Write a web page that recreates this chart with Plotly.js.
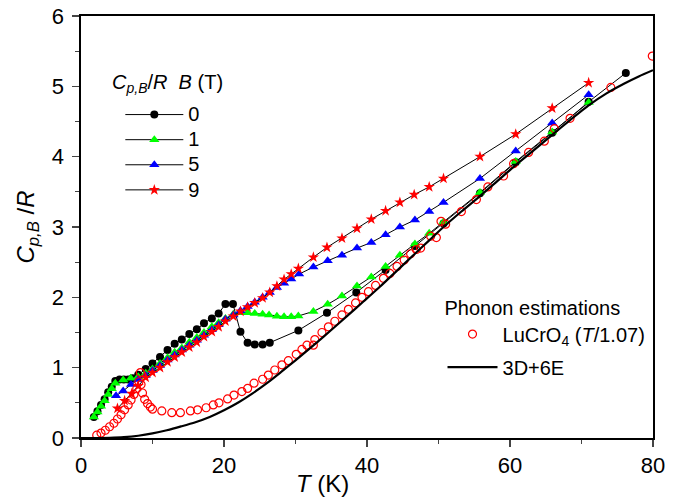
<!DOCTYPE html>
<html>
<head>
<meta charset="utf-8">
<script src="https://cdn.plot.ly/plotly-3.0.1.min.js"></script>
<style>html,body{margin:0;padding:0;background:#fff;}#chart{width:685px;height:502px;}</style>
</head>
<body>
<div id="chart"></div>
<script>
// B = 0 T
const T0 = [1.8,2.3,2.8,3.3,3.8,4.3,4.8,5.4,6.0,6.6,7.2,8.0,9.05,10.0,11.05,12.1,13.1,14.1,15.15,16.2,17.2,18.3,19.25,20.2,21.25,22.3,23.3,24.3,25.4,26.4,30.4,34.4,38.5,42.6,46.7,50.7,55.8,60.8,65.9,71.0,76.2];
const C0 = [0.30,0.38,0.47,0.55,0.65,0.73,0.81,0.83,0.83,0.83,0.85,0.90,0.98,1.06,1.15,1.25,1.34,1.40,1.48,1.545,1.63,1.70,1.77,1.905,1.905,1.51,1.355,1.33,1.33,1.355,1.53,1.78,2.07,2.39,2.73,3.05,3.48,3.92,4.34,4.78,5.19];
// B = 1 T
const T1 = [1.8,2.3,2.8,3.3,3.8,4.3,4.8,5.9,6.95,8.0,9.05,10.0,11.05,12.1,13.1,14.1,15.15,16.2,17.2,18.3,19.25,20.2,21.3,22.3,23.3,24.3,25.4,26.3,27.4,28.4,29.4,30.4,32.5,34.5,36.5,38.6,40.6,42.6,44.6,46.7,48.7,50.7,55.8,60.8,65.9,71.0];
const C1 = [0.30,0.37,0.45,0.53,0.62,0.70,0.78,0.825,0.85,0.87,0.92,0.98,1.06,1.14,1.22,1.28,1.36,1.43,1.50,1.58,1.64,1.70,1.76,1.78,1.78,1.77,1.76,1.75,1.73,1.725,1.725,1.735,1.80,1.90,2.02,2.16,2.29,2.44,2.60,2.76,2.91,3.07,3.49,3.93,4.35,4.77];
// B = 5 T
const T5 = [4.9,5.9,7.0,8.0,9.05,10.0,11.05,12.1,13.1,14.1,15.15,16.2,17.2,18.3,19.25,20.2,21.3,22.3,23.3,24.3,25.4,26.4,27.4,28.4,29.4,30.5,32.5,34.5,36.5,38.6,40.6,42.6,44.6,46.7,48.7,50.7,55.8,60.8,65.9,71.0];
const C5 = [0.60,0.67,0.76,0.83,0.89,0.96,1.03,1.11,1.18,1.25,1.32,1.39,1.46,1.54,1.61,1.69,1.75,1.81,1.87,1.93,2.00,2.07,2.14,2.20,2.26,2.33,2.43,2.52,2.60,2.70,2.78,2.89,3.00,3.10,3.22,3.35,3.69,4.08,4.48,4.88];
// B = 9 T
const T9 = [5.1,6.1,7.1,8.0,9.05,10.0,11.05,12.1,13.1,14.1,15.15,16.2,17.2,18.3,19.25,20.2,21.3,22.3,23.3,24.3,25.4,26.4,27.4,28.4,29.4,30.4,32.5,34.4,36.5,38.6,40.6,42.6,44.6,46.6,48.7,50.7,55.8,60.8,65.9,71.0];
const C9 = [0.42,0.53,0.63,0.74,0.86,0.93,1.00,1.08,1.15,1.22,1.29,1.36,1.44,1.51,1.58,1.66,1.73,1.80,1.86,1.92,1.99,2.07,2.16,2.255,2.33,2.41,2.57,2.71,2.84,2.98,3.11,3.23,3.35,3.46,3.57,3.69,4.00,4.32,4.69,5.05];
// LuCrO4 (T/1.07) phonon estimate
const TL = [2.2,2.8,3.4,4.0,4.6,5.1,5.6,6.1,6.6,7.0,7.4,7.8,8.1,8.3,8.4,8.6,8.9,9.3,9.7,10.0,11.3,12.7,13.9,15.3,16.3,17.5,18.5,19.3,20.5,21.4,22.5,23.3,24.2,25.4,26.2,27.1,28.1,29.0,30.1,30.9,31.6,32.5,32.7,33.7,34.6,35.5,36.5,37.4,38.4,39.3,40.2,41.2,42.3,43.2,44.2,45.2,46.1,46.9,47.5,48.9,49.7,50.35,51.0,53.2,55.3,56.9,59.1,60.5,62.6,64.8,66.2,68.4,74.1,79.9];
const CL = [0.04,0.07,0.11,0.16,0.21,0.27,0.33,0.40,0.47,0.54,0.62,0.70,0.80,0.93,0.76,0.64,0.55,0.49,0.44,0.41,0.385,0.36,0.36,0.385,0.40,0.43,0.47,0.50,0.555,0.61,0.66,0.705,0.78,0.835,0.895,0.967,1.04,1.10,1.19,1.26,1.32,1.32,1.40,1.50,1.58,1.66,1.75,1.83,1.92,2.00,2.08,2.17,2.27,2.34,2.44,2.53,2.62,2.68,2.70,2.87,2.85,3.08,3.04,3.22,3.39,3.57,3.725,3.90,4.06,4.22,4.40,4.545,4.985,5.43];
// 3D+6E model
const TM = [0,2,4,6,8,10,12,14,16,18,20,22,24,26,28,30,33,35,37,39.5,41.8,44.2,46.7,48.7,50.7,53.2,55.8,58.3,60.8,63.3,65.9,68.4,71,73.5,76,78,80];
const CM = [0,0,0.003,0.012,0.032,0.065,0.11,0.165,0.225,0.30,0.395,0.505,0.635,0.78,0.94,1.105,1.36,1.535,1.715,1.94,2.15,2.38,2.62,2.81,3.00,3.22,3.44,3.66,3.88,4.09,4.31,4.52,4.73,4.90,5.04,5.14,5.23];

const FAM = 'Liberation Sans, Arial, sans-serif';
const big = s => '<span style="font-size:20px">' + s + '</span>';

const traces = [
  {x: T0, y: C0, name: big('0'), legend: 'legend', mode: 'lines+markers',
   line: {color: '#000', width: 1}, marker: {symbol: 'circle', size: 8, color: '#000'}},
  {x: T1, y: C1, name: big('1'), legend: 'legend', mode: 'lines+markers',
   line: {color: '#000', width: 1}, marker: {symbol: 'triangle-up', size: 9, color: '#00ff00'}},
  {x: T5, y: C5, name: big('5'), legend: 'legend', mode: 'lines+markers',
   line: {color: '#000', width: 1}, marker: {symbol: 'triangle-up', size: 9, color: '#0000ff'}},
  {x: T9, y: C9, name: big('9'), legend: 'legend', mode: 'lines+markers',
   line: {color: '#000', width: 1}, marker: {symbol: 'star', size: 8.5, color: '#ff0000'}},
  {x: TL, y: CL, name: 'LuCrO<sub>4</sub> (<i>T</i>/1.07)', legend: 'legend2', legendgroup: 'a', mode: 'markers',
   marker: {symbol: 'circle-open', size: 8, color: '#ff0000', line: {width: 1.2, color: '#ff0000'}}},
  {x: TM, y: CM, name: '3D+6E', legend: 'legend2', legendgroup: 'b', mode: 'lines',
   line: {color: '#000', width: 2.2, shape: 'spline', smoothing: 0.8}}
];

const axisFont = {family: FAM, size: 22, color: '#000'};

const layout = {
  width: 685, height: 502,
  margin: {l: 81, r: 32, t: 16, b: 64},
  paper_bgcolor: '#fff', plot_bgcolor: '#fff',
  showlegend: true,
  xaxis: {
    range: [0, 80], tickvals: [0, 20, 40, 60, 80], ticks: 'outside', ticklen: 7, tickwidth: 1.2,
    minor: {tickvals: [10, 30, 50, 70], ticks: 'outside', ticklen: 4, tickwidth: 1.2},
    showline: true, linewidth: 1.6, linecolor: '#000', mirror: true,
    showgrid: false, zeroline: false, tickfont: axisFont
  },
  yaxis: {
    range: [0, 6], tickvals: [0, 1, 2, 3, 4, 5, 6], ticks: 'outside', ticklen: 7, tickwidth: 1.2,
    minor: {tickvals: [0.5, 1.5, 2.5, 3.5, 4.5, 5.5], ticks: 'outside', ticklen: 4, tickwidth: 1.2},
    showline: true, linewidth: 1.6, linecolor: '#000', mirror: true, ticklabelstandoff: 4,
    showgrid: false, zeroline: false, tickfont: axisFont,
    title: {text: '<i>C</i><sub><i>p,B</i></sub> /<i>R</i>', font: {family: FAM, size: 24, color: '#000'}, standoff: 10}
  },
  legend: {
    x: 0.06, y: 0.808, xanchor: 'left', yanchor: 'top', bgcolor: 'rgba(0,0,0,0)',
    font: {family: FAM, size: 17, color: '#000'}, traceorder: 'normal', itemwidth: 58, indentation: 5
  },
  legend2: {
    x: 0.632, y: 0.354, xanchor: 'left', yanchor: 'top', bgcolor: 'rgba(0,0,0,0)',
    font: {family: FAM, size: 20, color: '#000'}, traceorder: 'grouped', tracegroupgap: 4, itemwidth: 50,
    title: {text: 'Phonon estimations', font: {family: FAM, size: 20, color: '#000'}, side: 'top'}
  },
  annotations: [
    {text: '<i>C</i><sub><i>p,B</i></sub>/<i>R</i>&nbsp; <i>B</i> (T)', xref: 'paper', yref: 'paper',
     x: (110 - 81) / 572, y: (438 - 83) / 422, xanchor: 'left', yanchor: 'middle', showarrow: false,
     font: {family: FAM, size: 20, color: '#000'}},
    {text: '<i>T</i> (K)', xref: 'paper', yref: 'paper', x: (322 - 81) / 572, y: -(483 - 438) / 422,
     xanchor: 'center', yanchor: 'middle', showarrow: false,
     font: {family: FAM, size: 24, color: '#000'}}
  ]
};

Plotly.newPlot('chart', traces, layout, {displayModeBar: false, staticPlot: true});
</script>
</body>
</html>
